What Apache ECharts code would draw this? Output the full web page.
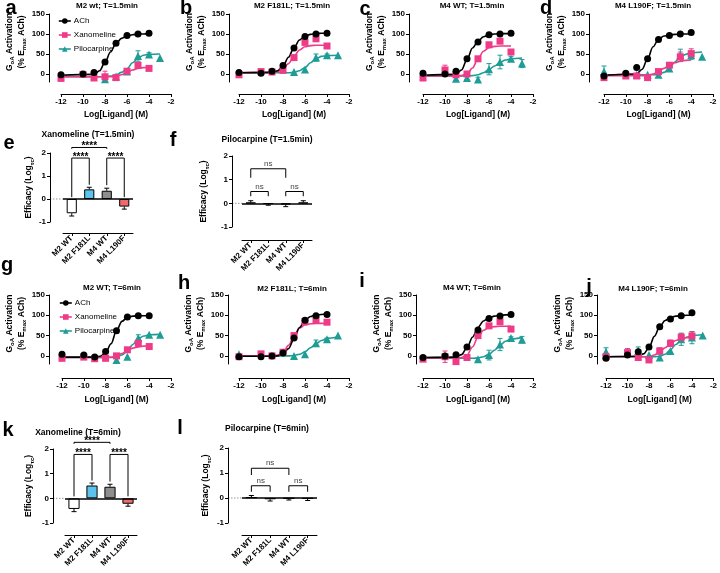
<!DOCTYPE html>
<html><head><meta charset="utf-8">
<script src="https://cdn.jsdelivr.net/npm/echarts@6/dist/echarts.min.js"></script>
<style>html,body{margin:0;padding:0;background:#fff}#c{width:720px;height:573px}</style>
</head><body><div id="c"></div>
<script>
// ================= DATA =================
const doseX = [-12, -10, -9, -8, -7, -6, -5, -4, -3];
const fitX = [-12, -9, -8.5, -8, -7.5, -7, -6.5, -6, -5.5, -5, -4.5, -4, -3];
const doseXTicks = [-12, -10, -8, -6, -4, -2];
const doseYTicks = [0, 50, 100, 150];
const ligandNames = ['ACh', 'Xanomeline', 'Pilocarpine'];
const receptorNames = ['M2 WT', 'M2 F181L', 'M4 WT', 'M4 L190F'];
const doseTitles = ['M2 wt; T=1.5min', 'M2 F181L; T=1.5min', 'M4 WT; T=1.5min', 'M4 L190F; T=1.5min',
                    'M2 WT; T=6min', 'M2 F181L; T=6min', 'M4 WT; T=6min', 'M4 L190F; T=6min'];
const barTitles = ['Xanomeline (T=1.5min)', 'Pilocarpine (T=1.5min)', 'Xanomeline (T=6min)', 'Pilocarpine (T=6min)'];
const panelLetters = ['a','b','c','d','e','f','g','h','i','j','k','l'];

// panel a
const a_ach = [-2, 0, 4, 30, 77, 96, 100, 102, null];
const a_ach_err = [0, 0, 0, 3, 3, 2, 2, 2, 0];
const a_ach_fit = [-3, -1, 8, 29, 55, 76, 89, 95, 98, 100, 100, 101, null];
const a_xan = [-11, -1, -10, -7, -9, 7, 22, 14, null];
const a_xan_err = [0, 0, 0, 14, 0, 3, 6, 3, 0];
const a_xan_fit = [-7, -7, -7, -7, -7, -6, -2, 4, 10, 14, 16, 17, null];
const a_pil = [null, null, null, -13, -6, 6, 45, 49, 40];
const a_pil_err = [0, 0, 0, 8, 0, 0, 13, 4, 0];
const a_pil_fit = [-7, -7, -7, -6, -5, -2, 4, 13, 28, 40, 47, 49, 50];
// panel b
const b_ach = [4, 2, 7, 21, 65, 94, 100, 102, null];
const b_ach_err = [0, 0, 0, 0, 3, 2, 2, 2, 0];
const b_ach_fit = [3, 4, 8, 20, 42, 66, 85, 95, 99, 101, 102, 102, null];
const b_xan = [-2, 6, 5, 9, 41, 79, 88, 70, null];
const b_xan_err = [0, 0, 0, 0, 3, 3, 3, 3, 0];
const b_xan_fit = [3, 4, 6, 12, 26, 44, 60, 68, 71, 72, 72, 72, null];
const b_pil = [null, null, null, null, 5, 11, 41, 47, 47];
const b_pil_err = [0, 0, 0, 0, 0, 0, 9, 3, 0];
const b_pil_fit = [3, 3, 3, 3, 3, 4, 8, 16, 28, 38, 44, 46, 47];
// panel c
const c_ach = [2, 0, 7, 38, 80, 98, 100, 102, null];
const c_ach_err = [0, 0, 0, 3, 3, 2, 2, 2, 0];
const c_ach_fit = [-3, -1, 10, 36, 65, 82, 93, 98, 100, 101, 101, 101, null];
const c_xan = [-10, 10, -2, 0, 38, 73, 82, 55, null];
const c_xan_err = [0, 12, 0, 0, 3, 3, 3, 4, 0];
const c_xan_fit = [-5, -5, -4, 0, 15, 38, 57, 66, 69, 70, 70, 70, null];
const c_pil = [null, null, -12, -10, -14, 12, 30, 38, 26];
const c_pil_err = [0, 0, 6, 4, 6, 14, 17, 6, 10];
const c_pil_fit = [-5, -5, -5, -5, -4, -2, 3, 11, 20, 29, 35, 38, 40];
// panel d
const d_ach = [-5, 2, 16, 38, 86, 96, 100, 104, null];
const d_ach_err = [0, 0, 0, 3, 3, 2, 2, 2, 0];
const d_ach_fit = [-3, 0, 12, 38, 68, 87, 95, 98, 99, 100, 100, 100, null];
const d_xan = [-9, -5, -5, -9, 6, 22, 43, 51, null];
const d_xan_err = [0, 0, 0, 0, 3, 6, 12, 12, 0];
const d_xan_fit = [-4, -4, -4, -3, 0, 6, 14, 22, 28, 32, 34, 35, null];
const d_pil = [6, null, -2, -2, -2, 14, 47, 47, 43];
const d_pil_err = [14, 0, 0, 0, 0, 0, 15, 10, 0];
const d_pil_fit = [-2, -2, -2, -2, -2, -1, 4, 15, 30, 42, 49, 53, 55];
// panel g
const g_ach = [4, 2, -3, 11, 62, 96, 99, 99, null];
const g_ach_err = [0, 0, 0, 3, 3, 2, 2, 2, 0];
const g_ach_fit = [-3, -3, -1, 8, 30, 62, 85, 95, 98, 99, 99, 99, null];
const g_xan = [-6, -3, -7, -6, 0, 15, 31, 23, null];
const g_xan_err = [0, 0, 0, 0, 0, 3, 8, 3, 0];
const g_xan_fit = [-4, -4, -4, -4, -3, 0, 6, 13, 19, 22, 24, 25, null];
const g_pil = [null, null, null, null, -10, -2, 44, 52, 52];
const g_pil_err = [0, 0, 0, 0, 0, 0, 8, 0, 0];
const g_pil_fit = [-4, -4, -4, -4, -4, -3, 2, 12, 28, 42, 49, 52, 53];
// panel h
const h_ach = [-2, -2, 0, 7, 44, 88, 99, 102, null];
const h_ach_err = [0, 0, 0, 3, 3, 2, 2, 2, 0];
const h_ach_fit = [-1, -1, 0, 4, 18, 42, 70, 88, 97, 101, 102, 103, null];
const h_xan = [-2, 5, 0, 9, 50, 85, 89, 83, null];
const h_xan_err = [0, 0, 0, 0, 3, 3, 3, 3, 0];
const h_xan_fit = [0, 0, 2, 8, 26, 50, 68, 76, 79, 80, 80, 80, null];
const h_pil = [4, null, null, null, 0, 4, 31, 41, 50];
const h_pil_err = [0, 0, 0, 0, 0, 0, 8, 3, 0];
const h_pil_fit = [0, 0, 0, 0, 0, 1, 4, 10, 20, 30, 38, 43, 47];
// panel i
const i_ach = [-4, 0, 3, 22, 64, 92, 98, 102, null];
const i_ach_err = [0, 0, 0, 3, 3, 2, 2, 2, 0];
const i_ach_fit = [-4, -3, 3, 20, 46, 70, 86, 94, 98, 100, 101, 101, null];
const i_xan = [-8, -2, -14, -4, 50, 74, 84, 66, null];
const i_xan_err = [0, 14, 0, 0, 3, 3, 3, 3, 0];
const i_xan_fit = [-5, -5, -4, 2, 22, 46, 63, 70, 72, 73, 73, 73, null];
const i_pil = [null, null, null, null, -8, 2, 28, 44, 40];
const i_pil_err = [0, 0, 0, 0, 0, 12, 15, 3, 8];
const i_pil_fit = [-6, -6, -6, -6, -6, -5, -2, 4, 14, 26, 36, 42, 45];
// panel j
const j_ach = [-6, 2, 10, 22, 72, 91, 99, 106, null];
const j_ach_err = [0, 0, 0, 3, 3, 2, 2, 2, 0];
const j_ach_fit = [-2, -1, 5, 20, 48, 72, 87, 95, 98, 99, 100, 100, null];
const j_xan = [-2, 8, -4, -10, 12, 31, 46, 49, null];
const j_xan_err = [0, 10, 0, 0, 8, 8, 8, 10, 0];
const j_xan_fit = [-2, -2, -2, -2, 2, 10, 20, 30, 38, 43, 45, 46, null];
const j_pil = [10, null, 12, 2, -4, 12, 41, 45, 50];
const j_pil_err = [10, 0, 10, 0, 0, 0, 15, 15, 0];
const j_pil_fit = [-2, -2, -2, -2, -2, -1, 4, 15, 28, 38, 46, 50, 52];

// efficacy bar panels (e, f, k, l)
const e_mean = [-0.62, 0.42, 0.36, -0.33];
const e_err = [0.12, 0.09, 0.11, 0.11];
const f_mean = [0.03, -0.02, -0.05, 0.03];
const f_err = [0.08, 0.06, 0.09, 0.08];
const k_mean = [-0.43, 0.52, 0.47, -0.22];
const k_err = [0.11, 0.10, 0.10, 0.10];
const l_mean = [0.03, -0.05, -0.02, -0.03];
const l_err = [0.07, 0.07, 0.06, 0.07];
// brackets: [fromIndex, toIndex, top, leftLegEnd, rightLegEnd, label]
const e_brackets = [[0, 2, 2.24, 2.18, 2.18, '****'], [0, 1, 1.78, 0.08, 0.62, '****'], [2, 3, 1.78, 0.6, 0.08, '****']];
const f_brackets = [[0, 2, 1.46, 1.08, 1.08, 'ns'], [0, 1, 0.5, 0.3, 0.3, 'ns'], [2, 3, 0.5, 0.3, 0.3, 'ns']];
const k_brackets = [[0, 2, 2.27, 2.21, 2.21, '****'], [0, 1, 1.78, 0.08, 0.72, '****'], [2, 3, 1.78, 0.68, 0.08, '****']];
const l_brackets = [[0, 2, 1.19, 0.92, 0.92, 'ns'], [0, 1, 0.49, 0.25, 0.25, 'ns'], [2, 3, 0.49, 0.25, 0.25, 'ns']];

// ================= STYLE / LAYOUT =================
const FONT = "'Liberation Sans', Arial, Helvetica, sans-serif";
const ligStyle = [
  { color: '#000000', symbol: 'circle', size: 7 },
  { color: '#ee3a87', symbol: 'rect', size: 7 },
  { color: '#1e9c96', symbol: 'triangle', size: 8 }
];
const barColors = ['#ffffff', '#5bc3ee', '#8e8e8e', '#ef6b6b'];

const doseMeans = [[a_ach,a_xan,a_pil],[b_ach,b_xan,b_pil],[c_ach,c_xan,c_pil],[d_ach,d_xan,d_pil],
                   [g_ach,g_xan,g_pil],[h_ach,h_xan,h_pil],[i_ach,i_xan,i_pil],[j_ach,j_xan,j_pil]];
const doseErrs = [[a_ach_err,a_xan_err,a_pil_err],[b_ach_err,b_xan_err,b_pil_err],[c_ach_err,c_xan_err,c_pil_err],[d_ach_err,d_xan_err,d_pil_err],
                  [g_ach_err,g_xan_err,g_pil_err],[h_ach_err,h_xan_err,h_pil_err],[i_ach_err,i_xan_err,i_pil_err],[j_ach_err,j_xan_err,j_pil_err]];
const doseFits = [[a_ach_fit,a_xan_fit,a_pil_fit],[b_ach_fit,b_xan_fit,b_pil_fit],[c_ach_fit,c_xan_fit,c_pil_fit],[d_ach_fit,d_xan_fit,d_pil_fit],
                  [g_ach_fit,g_xan_fit,g_pil_fit],[h_ach_fit,h_xan_fit,h_pil_fit],[i_ach_fit,i_xan_fit,i_pil_fit],[j_ach_fit,j_xan_fit,j_pil_fit]];
const barMeans = [e_mean, f_mean, k_mean, l_mean];
const barErrs = [e_err, f_err, k_err, l_err];
const barBrackets = [e_brackets, f_brackets, k_brackets, l_brackets];

const doseLayout = [
  { ax: 49,  left: 61,  top: 14,  width: 110, height: 68, ng: 19, xo: 12, xng: 16 },
  { ax: 229, left: 239, top: 14,  width: 110, height: 68, ng: 21, xo: 12, xng: 16 },
  { ax: 409, left: 423, top: 14,  width: 110, height: 68, ng: 19, xo: 12, xng: 16 },
  { ax: 589, left: 604, top: 14,  width: 109, height: 68, ng: 19, xo: 12, xng: 16 },
  { ax: 49,  left: 62,  top: 295, width: 109, height: 69, ng: 19, xo: 14, xng: 17 },
  { ax: 228, left: 239, top: 295, width: 110, height: 69, ng: 21, xo: 14, xng: 17 },
  { ax: 416, left: 423, top: 295, width: 110, height: 69, ng: 18, xo: 14, xng: 17 },
  { ax: 597, left: 606, top: 295, width: 109, height: 69, ng: 20, xo: 14, xng: 17 }
];
const barLayout = [
  { ax: 50,  left: 63,  top: 153, width: 70, height: 69, xo: 11, ng: 14, bw: '58%' },
  { ax: 232, left: 242, top: 156, width: 70, height: 71, xo: 13, ng: 22, bw: '58%' },
  { ax: 53,  left: 65,  top: 449, width: 72, height: 74, xo: 12, ng: 18, bw: '62%' },
  { ax: 228, left: 242, top: 448, width: 75, height: 75, xo: 12, ng: 16, bw: '62%' }
];
const doseTitlePos = [[107,6],[292,6],[472,6],[653,6],[112,288],[292,289],[472,288],[653,289]];
const barTitlePos = [[88,135],[267,140],[78,433],[267,429]];
const letterPos = [[11,8],[186,8],[365,9],[546,8],[9,143],[173,140],[7,265],[184,283],[362,281],[589,287],[8,430],[180,428]];

// ================= BUILD =================
const grids = [], xAxes = [], yAxes = [], series = [], legends = [];
const axisBase = {
  axisLine: { show: true, onZero: false, lineStyle: { color: '#000', width: 1 } },
  axisTick: { show: true, length: 3, lineStyle: { color: '#000', width: 1 } },
  splitLine: { show: false }
};
const tickLabel = { margin: 4, fontSize: 8, fontWeight: 'bold', color: '#000', fontFamily: FONT };
const nameRich = {
  n: { fontSize: 8.5, fontWeight: 'bold', color: '#000', fontFamily: FONT, lineHeight: 12 },
  s: { fontSize: 6, fontWeight: 'bold', color: '#000', fontFamily: FONT, lineHeight: 6, verticalAlign: 'bottom' }
};

doseLayout.forEach((L, p) => {
  grids.push({ left: L.left, top: L.top, width: L.width, height: L.height });
  xAxes.push(Object.assign({}, axisBase, {
    gridIndex: p, type: 'value', min: -12, max: -2, interval: 2, offset: L.xo, position: 'bottom',
    name: 'Log[Ligand] (M)', nameLocation: 'middle', nameGap: L.xng,
    nameTextStyle: { fontSize: 8.5, fontWeight: 'bold', color: '#000', fontFamily: FONT },
    axisLabel: Object.assign({}, tickLabel, { customValues: doseXTicks }),
    axisTick: { show: true, length: 3, lineStyle: { color: '#000' }, customValues: doseXTicks }
  }));
  yAxes.push(Object.assign({}, axisBase, {
    gridIndex: p, type: 'value', min: -20, max: 150, offset: L.left - L.ax, position: 'left',
    name: '{n|G}{s|oA}{n| Activation}\n{n|(% E}{s|max}{n| ACh)}',
    nameLocation: 'middle', nameGap: L.ng, nameRotate: 90,
    nameTextStyle: { rich: nameRich, padding: [0, 0, 0, 12] },
    axisLabel: Object.assign({}, tickLabel, { customValues: doseYTicks }),
    axisTick: { show: true, length: 3, lineStyle: { color: '#000' }, customValues: doseYTicks }
  }));
  const order = [2, 1, 0];
  order.forEach(li => {
    const fit = doseFits[p][li];
    series.push({
      type: 'line', name: ligandNames[li] + ' fit', xAxisIndex: p, yAxisIndex: p,
      data: fitX.map((x, i) => fit[i] == null ? null : [x, fit[i]]).filter(Boolean),
      smooth: 0.35, smoothMonotone: 'x', showSymbol: false, silent: true, z: 2,
      lineStyle: { color: ligStyle[li].color, width: 1.6 }
    });
  });
  order.forEach(li => {
    const m = doseMeans[p][li], e = doseErrs[p][li], col = ligStyle[li].color;
    const pts = [];
    doseX.forEach((x, i) => { if (m[i] != null && e[i] > 0) pts.push([x, m[i], e[i]]); });
    series.push({
      type: 'custom', name: ligandNames[li] + ' sem', xAxisIndex: p, yAxisIndex: p, silent: true, z: 3,
      encode: { x: 0, y: 1 }, data: pts,
      renderItem: (params, api) => {
        const x = api.value(0), mv = api.value(1), ev = api.value(2);
        const t = api.coord([x, mv + ev]), b = api.coord([x, mv - ev]);
        const cw = 2.5, st = { stroke: col, lineWidth: 1 };
        return { type: 'group', children: [
          { type: 'line', shape: { x1: t[0], y1: t[1], x2: b[0], y2: b[1] }, style: st },
          { type: 'line', shape: { x1: t[0] - cw, y1: t[1], x2: t[0] + cw, y2: t[1] }, style: st },
          { type: 'line', shape: { x1: b[0] - cw, y1: b[1], x2: b[0] + cw, y2: b[1] }, style: st }
        ] };
      }
    });
  });
  order.forEach(li => {
    const m = doseMeans[p][li], s = ligStyle[li];
    series.push({
      type: 'line', name: ligandNames[li], xAxisIndex: p, yAxisIndex: p, z: 4, silent: true,
      data: doseX.map((x, i) => m[i] == null ? null : [x, m[i]]).filter(Boolean),
      symbol: s.symbol, symbolSize: s.size, showSymbol: true, showAllSymbol: true,
      itemStyle: { color: s.color, borderWidth: 0 },
      lineStyle: { color: s.color, width: 1.6, opacity: 0 }
    });
  });
});

barLayout.forEach((L, k) => {
  const g = 8 + k;
  grids.push({ left: L.left, top: L.top, width: L.width, height: L.height });
  xAxes.push(Object.assign({}, axisBase, {
    gridIndex: g, type: 'category', data: receptorNames, offset: L.xo, position: 'bottom',
    axisTick: { show: true, length: 3, alignWithLabel: true, lineStyle: { color: '#000' } },
    axisLabel: Object.assign({}, tickLabel, { rotate: 45, interval: 0, margin: 4 })
  }));
  yAxes.push(Object.assign({}, axisBase, {
    gridIndex: g, type: 'value', min: -1, max: 2, interval: 1, offset: L.left - L.ax, position: 'left',
    name: '{n|Efficacy (Log}{s|τc}{n|)}', nameLocation: 'middle', nameGap: L.ng, nameRotate: 90,
    nameTextStyle: { rich: nameRich },
    axisLabel: tickLabel
  }));
  const m = barMeans[k], er = barErrs[k], br = barBrackets[k];
  series.push({
    type: 'bar', xAxisIndex: g, yAxisIndex: g, barWidth: L.bw, silent: true, z: 2,
    data: m.map((v, i) => ({ value: v, itemStyle: { color: barColors[i] } })),
    itemStyle: { borderColor: '#000', borderWidth: 1 },
    markLine: { silent: true, symbol: 'none', label: { show: false }, animation: false,
      lineStyle: { color: '#000', width: 1.5, type: 'solid' }, data: [{ yAxis: 0 }] }
  });
  series.push({
    type: 'custom', xAxisIndex: g, yAxisIndex: g, silent: true, z: 3,
    encode: { x: 0, y: 1 }, data: m.map((v, i) => [i, v, er[i]]),
    renderItem: (params, api) => {
      const i = api.value(0), v = api.value(1), e = api.value(2);
      const end = v + (v >= 0 ? e : -e);
      const a = api.coord([i, v]), b = api.coord([i, end]);
      const cw = 2.5, st = { stroke: '#000', lineWidth: 1 };
      return { type: 'group', children: [
        { type: 'line', shape: { x1: a[0], y1: a[1], x2: b[0], y2: b[1] }, style: st },
        { type: 'line', shape: { x1: b[0] - cw, y1: b[1], x2: b[0] + cw, y2: b[1] }, style: st }
      ] };
    }
  });
  series.push({
    type: 'custom', xAxisIndex: g, yAxisIndex: g, silent: true, z: 5, clip: false,
    encode: { x: 0, y: 1 }, data: br.map(b => [b[0], b[2]]),
    renderItem: (params, api) => {
      const b = br[params.dataIndex];
      const pl = api.coord([b[0], b[3]]), tl = api.coord([b[0], b[2]]);
      const tr = api.coord([b[1], b[2]]), pr = api.coord([b[1], b[4]]);
      const stars = b[5].indexOf('*') >= 0;
      return { type: 'group', children: [
        { type: 'polyline', shape: { points: [pl, tl, tr, pr] }, style: { stroke: '#000', lineWidth: 1, fill: null } },
        { type: 'text', x: (tl[0] + tr[0]) / 2, y: tl[1] - (stars ? 1 : 5),
          style: { text: b[5], align: 'center', verticalAlign: 'middle', fill: stars ? '#000' : '#444',
            fontSize: stars ? 10 : 8, fontWeight: stars ? 'bold' : 'normal', fontFamily: FONT } }
      ] };
    }
  });
});

[[0, 17], [4, 299]].forEach(([p, top]) => {
  legends.push({
    data: ligandNames, left: doseLayout[p].left - 3, top: top, orient: 'vertical', padding: 0,
    itemWidth: 12, itemHeight: 7, itemGap: 6, selectedMode: false,
    textStyle: { fontSize: 8, color: '#000', fontFamily: FONT, padding: [0, 0, 0, -2] },
    lineStyle: { opacity: 1, width: 1.6 }
  });
});

const chart = echarts.init(document.getElementById('c'), null, { width: 720, height: 573 });
chart.setOption({
  animation: false, backgroundColor: '#fff',
  grid: grids, xAxis: xAxes, yAxis: yAxes, series: series, legend: legends
});

const gfx = [];
doseTitles.forEach((t, i) => gfx.push({ type: 'text', x: doseTitlePos[i][0], y: doseTitlePos[i][1], silent: true,
  style: { text: t, align: 'center', verticalAlign: 'middle', fontSize: 8, fontWeight: 'bold', fill: '#000', fontFamily: FONT } }));
barTitles.forEach((t, i) => gfx.push({ type: 'text', x: barTitlePos[i][0], y: barTitlePos[i][1], silent: true,
  style: { text: t, align: 'center', verticalAlign: 'middle', fontSize: 8.5, fontWeight: 'bold', fill: '#000', fontFamily: FONT } }));
panelLetters.forEach((t, i) => gfx.push({ type: 'text', x: letterPos[i][0], y: letterPos[i][1], silent: true,
  style: { text: t, align: 'center', verticalAlign: 'middle', fontSize: 20, fontWeight: 'bold', fill: '#000', fontFamily: FONT } }));
barLayout.forEach((L, k) => {
  const y0 = chart.convertToPixel({ yAxisIndex: 8 + k }, 0);
  gfx.push({ type: 'line', silent: true, shape: { x1: L.ax, y1: y0, x2: L.left, y2: y0 },
    style: { stroke: '#999', lineWidth: 1, lineDash: [1.5, 1.5] } });
});
chart.setOption({ graphic: { elements: gfx } });
</script>
</body></html>
